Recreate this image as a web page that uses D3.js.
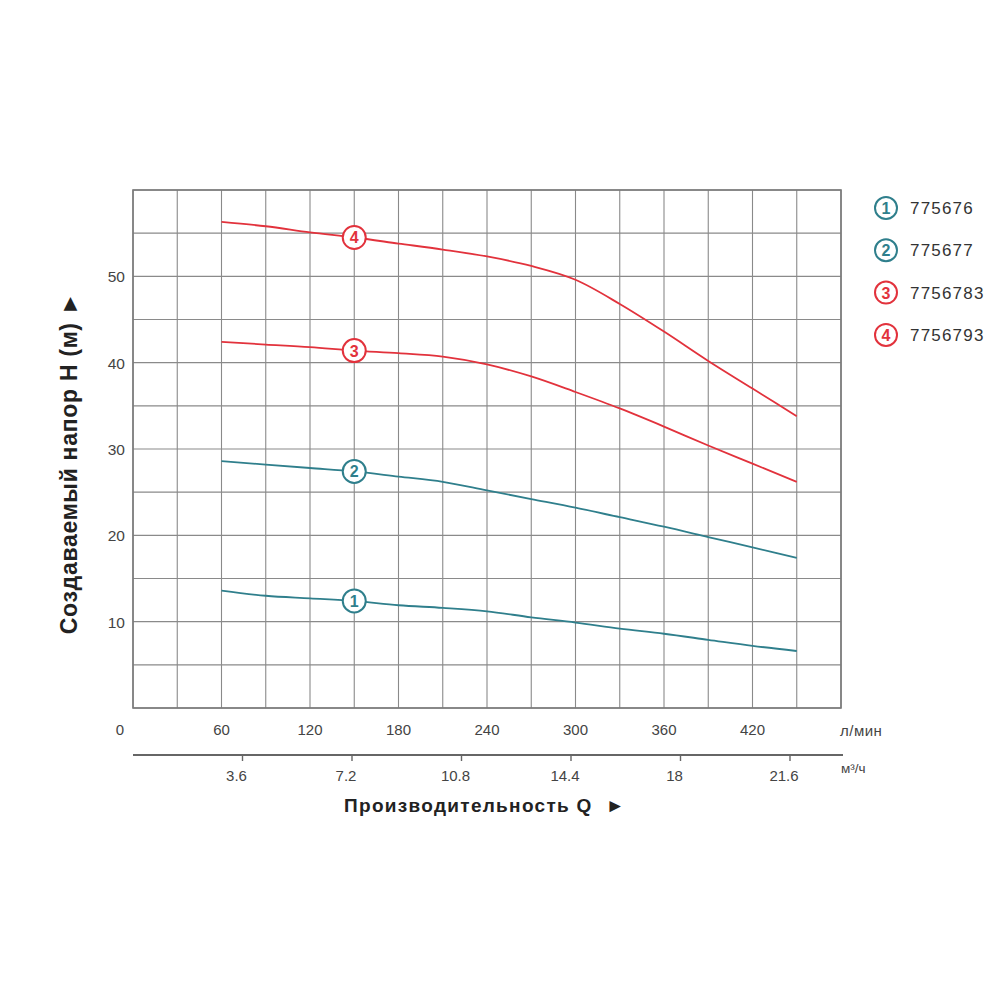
<!DOCTYPE html>
<html>
<head>
<meta charset="utf-8">
<script src="https://cdn.jsdelivr.net/npm/d3@7"></script>
<style>
  body { margin: 0; background: #fff; }
  svg { display: block; }
  text { font-family: 'Liberation Sans', Arial, sans-serif; }
</style>
</head>
<body>
<div id="chart"></div>
<script>
// flow, l/min
const flowLpm = [60, 90, 120, 150, 180, 210, 240, 270, 300, 330, 360, 390, 420, 450];
// head, m
const head1 = [13.6, 13.0, 12.7, 12.4, 11.9, 11.6, 11.2, 10.5, 9.9, 9.2, 8.6, 7.9, 7.2, 6.6];
const head2 = [28.6, 28.2, 27.8, 27.4, 26.8, 26.2, 25.2, 24.2, 23.2, 22.1, 21.0, 19.8, 18.6, 17.4];
const head3 = [42.4, 42.1, 41.8, 41.4, 41.1, 40.7, 39.8, 38.4, 36.6, 34.7, 32.6, 30.4, 28.3, 26.2];
const head4 = [56.3, 55.8, 55.1, 54.5, 53.8, 53.1, 52.3, 51.2, 49.6, 46.8, 43.6, 40.2, 37.0, 33.8];
const seriesNames = ['775676', '775677', '7756783', '7756793'];
const lpmTicks = [60, 120, 180, 240, 300, 360, 420];
const m3hTicks = [3.6, 7.2, 10.8, 14.4, 18, 21.6];
const headTicks = [10, 20, 30, 40, 50];

const teal = '#2f7f8c';
const red = '#e2323c';
const series = [
  { id: 1, name: seriesNames[0], values: head1, color: teal },
  { id: 2, name: seriesNames[1], values: head2, color: teal },
  { id: 3, name: seriesNames[2], values: head3, color: red },
  { id: 4, name: seriesNames[3], values: head4, color: red }
];
const markerFlow = 150;

const width = 1000;
const height = 1000;
const plot = { left: 133, right: 841, top: 190, bottom: 708 };

const svg = d3.select('#chart')
  .append('svg')
  .attr('width', width)
  .attr('height', height);

const x = d3.scaleLinear().domain([0, 480]).range([plot.left, plot.right]);
const y = d3.scaleLinear().domain([0, 60]).range([plot.bottom, plot.top]);
// the m3/h scale in the drawing does not line up with l/min, it is drawn on its own
const x2 = d3.scaleLinear().domain([0, 21.6]).range([plot.left, 790]);

// grid
const grid = svg.append('g').attr('stroke', '#8a8a8a').attr('stroke-width', 1.1);
grid.selectAll('line.v')
  .data(d3.range(0, 481, 30))
  .join('line')
  .attr('x1', (d) => x(d)).attr('x2', (d) => x(d))
  .attr('y1', plot.top).attr('y2', plot.bottom);
grid.selectAll('line.h')
  .data(d3.range(0, 61, 5))
  .join('line')
  .attr('x1', plot.left).attr('x2', plot.right)
  .attr('y1', (d) => y(d)).attr('y2', (d) => y(d));
svg.append('rect')
  .attr('x', plot.left).attr('y', plot.top)
  .attr('width', plot.right - plot.left).attr('height', plot.bottom - plot.top)
  .attr('fill', 'none').attr('stroke', '#7a7a7a').attr('stroke-width', 1.6);

// y tick labels
svg.append('g')
  .attr('font-size', 15.5)
  .attr('fill', '#444')
  .attr('text-anchor', 'end')
  .selectAll('text')
  .data(headTicks)
  .join('text')
  .attr('x', plot.left - 8)
  .attr('y', (d) => y(d) + 6)
  .text((d) => d);

// l/min tick labels
const lpm = svg.append('g').attr('font-size', 15).attr('fill', '#444').attr('text-anchor', 'middle');
lpm.selectAll('text')
  .data([0].concat(lpmTicks))
  .join('text')
  .attr('x', (d) => (d === 0 ? x(d) - 13 : x(d)))
  .attr('y', 735)
  .text((d) => d);
svg.append('text')
  .attr('x', 840).attr('y', 736)
  .attr('font-size', 15).attr('letter-spacing', 0.5).attr('fill', '#444')
  .text('л/мин');

// m3/h axis
const axis2 = svg.append('g').attr('transform', 'translate(0,755)');
axis2.append('line')
  .attr('x1', plot.left).attr('x2', 843)
  .attr('stroke', '#666').attr('stroke-width', 1.8);
axis2.selectAll('line.t')
  .data(m3hTicks)
  .join('line')
  .attr('x1', (d) => x2(d)).attr('x2', (d) => x2(d))
  .attr('y1', 0).attr('y2', 6)
  .attr('stroke', '#666').attr('stroke-width', 1.4);
axis2.selectAll('text')
  .data(m3hTicks)
  .join('text')
  .attr('x', (d) => x2(d) - 6)
  .attr('y', 26)
  .attr('text-anchor', 'middle')
  .attr('font-size', 15).attr('fill', '#444')
  .text((d) => d);
svg.append('text')
  .attr('x', 841).attr('y', 773)
  .attr('font-size', 13.5).attr('fill', '#444')
  .text('м³/ч');

// axis titles
svg.append('text')
  .attr('x', 485).attr('y', 812)
  .attr('text-anchor', 'middle')
  .attr('font-size', 19).attr('font-weight', 'bold').attr('fill', '#222')
  .attr('letter-spacing', 1.3)
  .attr('xml:space', 'preserve')
  .text('Производительность Q  ►');
svg.append('text')
  .attr('transform', 'translate(77,463) rotate(-90)')
  .attr('text-anchor', 'middle')
  .attr('font-size', 23).attr('font-weight', 'bold').attr('fill', '#222')
  .attr('letter-spacing', 0.7)
  .text('Создаваемый напор H (м) ►');

// curves
const line = d3.line()
  .x((d, i) => x(flowLpm[i]))
  .y((d) => y(d))
  .curve(d3.curveMonotoneX);

svg.append('g')
  .attr('fill', 'none')
  .attr('stroke-width', 1.8)
  .selectAll('path')
  .data(series)
  .join('path')
  .attr('stroke', (d) => d.color)
  .attr('d', (d) => line(d.values));

// numbered markers on the curves
const mIdx = flowLpm.indexOf(markerFlow);
const markers = svg.append('g')
  .selectAll('g')
  .data(series)
  .join('g')
  .attr('transform', (d) => `translate(${x(markerFlow)},${y(d.values[mIdx])})`);
markers.append('circle')
  .attr('r', 11.5)
  .attr('fill', '#fff')
  .attr('stroke', (d) => d.color)
  .attr('stroke-width', 2);
markers.append('text')
  .attr('text-anchor', 'middle')
  .attr('y', 6)
  .attr('font-size', 16).attr('font-weight', 'bold')
  .attr('fill', (d) => d.color)
  .text((d) => d.id);

// legend
const legend = svg.append('g')
  .selectAll('g')
  .data(series)
  .join('g')
  .attr('transform', (d, i) => `translate(886,${208 + i * 42.3})`);
legend.append('circle')
  .attr('r', 11)
  .attr('fill', '#fff')
  .attr('stroke', (d) => d.color)
  .attr('stroke-width', 2);
legend.append('text')
  .attr('text-anchor', 'middle')
  .attr('y', 6)
  .attr('font-size', 16).attr('font-weight', 'bold')
  .attr('fill', (d) => d.color)
  .text((d) => d.id);
legend.append('text')
  .attr('x', 24)
  .attr('y', 6)
  .attr('font-size', 17).attr('letter-spacing', 1.2).attr('fill', '#333')
  .text((d) => d.name);
</script>
</body>
</html>
